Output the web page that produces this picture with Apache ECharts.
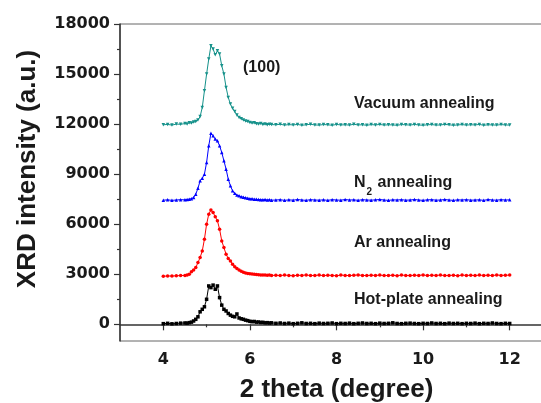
<!DOCTYPE html>
<html>
<head>
<meta charset="utf-8">
<script src="https://cdn.jsdelivr.net/npm/echarts@6/dist/echarts.min.js"></script>
<style>
  html, body { margin: 0; padding: 0; background: #fff; }
  #main { width: 541px; height: 403px; }
</style>
</head>
<body>
<div id="main"></div>
<script>
// 2 theta positions (denser around the (100) peak)
var twoTheta = [
    4.0, 4.1, 4.2, 4.3, 4.4,
    4.5, 4.55, 4.6, 4.65, 4.7, 4.75, 4.8, 4.85, 4.9, 4.95,
    5.0, 5.05, 5.1, 5.15, 5.2, 5.25, 5.3, 5.35, 5.4, 5.45,
    5.5, 5.55, 5.6, 5.65, 5.7, 5.75, 5.8, 5.85, 5.9, 5.95,
    6.0, 6.05, 6.1, 6.15, 6.2, 6.25, 6.3, 6.35, 6.4, 6.45, 6.5,
    6.6, 6.7, 6.8, 6.9, 7.0, 7.1, 7.2, 7.3, 7.4, 7.5, 7.6,
    7.7, 7.8, 7.9, 8.0, 8.1, 8.2, 8.3, 8.4, 8.5, 8.6, 8.7,
    8.8, 8.9, 9.0, 9.1, 9.2, 9.3, 9.4, 9.5, 9.6, 9.7, 9.8,
    9.9, 10.0, 10.1, 10.2, 10.3, 10.4, 10.5, 10.6, 10.7, 10.8, 10.9,
    11.0, 11.1, 11.2, 11.3, 11.4, 11.5, 11.6, 11.7, 11.8, 11.9, 12.0
];

var vacuum = [
    11960, 11980, 11940, 12000, 11990,
    12030, 12010, 12080, 12060, 12120, 12150, 12250, 12450, 13000, 14000,
    15000, 15900, 16700, 16500, 16150, 16400, 16200, 15500, 15000, 14200,
    13600, 13200, 12950, 12750, 12550, 12400, 12320, 12250, 12180, 12150,
    12100, 12060, 12080, 12020, 12010, 12040, 11980, 12000, 11960, 11990, 11970,
    11960, 11990, 11940, 11970, 11950, 11980, 11930, 11960, 11990, 11950, 11940,
    11970, 11960, 11930, 11980, 11950, 11960, 11940, 11990, 11950, 11960, 11930,
    11970, 11950, 11980, 11940, 11960, 11950, 11930, 11970, 11960, 11940, 11980,
    11950, 11930, 11960, 11970, 11940, 11950, 11980, 11960, 11930, 11950, 11970,
    11940, 11960, 11950, 11980, 11930, 11960, 11950, 11940, 11970, 11950, 11940
];

var nitrogen = [
    7440, 7460, 7430, 7450, 7470,
    7460, 7480, 7500, 7530, 7600, 7800, 8150, 8600, 8750, 9000,
    9700, 10700, 11450, 11300, 11100, 11000, 10700, 10300, 9800, 9300,
    8700, 8300, 8000, 7850, 7750, 7700, 7650, 7620, 7580, 7560,
    7530, 7520, 7500, 7490, 7480, 7470, 7460, 7480, 7450, 7470, 7440,
    7450, 7470, 7430, 7460, 7440, 7480, 7450, 7430, 7470, 7450, 7440,
    7460, 7430, 7470, 7450, 7440, 7480, 7450, 7460, 7430, 7470, 7450,
    7440, 7460, 7480, 7450, 7430, 7460, 7450, 7470, 7440, 7450, 7480,
    7450, 7430, 7460, 7470, 7440, 7450, 7480, 7450, 7430, 7460, 7450,
    7470, 7440, 7450, 7460, 7430, 7480, 7450, 7440, 7470, 7450, 7460
];

var argon = [
    2880, 2900, 2890, 2910, 2920,
    2930, 2950, 3000, 3150, 3250, 3400, 3700, 4000, 4400, 5100,
    6000, 6600, 6850, 6700, 6450, 6200, 5700, 5000, 4600, 4200,
    3950, 3800, 3600, 3450, 3350, 3250, 3180, 3120, 3080, 3050,
    3030, 3010, 3000, 2980, 2970, 2960, 2950, 2960, 2940, 2950, 2930,
    2940, 2920, 2950, 2930, 2910, 2940, 2930, 2960, 2920, 2930, 2950,
    2920, 2940, 2930, 2910, 2950, 2930, 2920, 2940, 2960, 2930, 2920,
    2940, 2930, 2950, 2920, 2930, 2940, 2910, 2950, 2930, 2920, 2940,
    2930, 2960, 2920, 2940, 2930, 2950, 2920, 2930, 2940, 2910, 2950,
    2930, 2940, 2920, 2950, 2930, 2940, 2920, 2960, 2930, 2940, 2950
];

var hotPlate = [
    40, 60, 30, 50, 70,
    80, 70, 100, 130, 200, 300, 450, 750, 900, 1050,
    1500, 2300, 2200, 2350, 2100, 2300, 1600, 1150, 900, 800,
    650, 550, 480, 450, 620, 380, 330, 300, 250, 220,
    180, 160, 170, 130, 140, 110, 120, 90, 100, 80, 90,
    60, 80, 50, 70, 40, 60, 90, 50, 60, 40, 70,
    50, 60, 80, 40, 60, 50, 70, 40, 60, 80, 50,
    60, 40, 70, 50, 60, 90, 50, 40, 60, 70, 50,
    40, 60, 50, 80, 50, 60, 40, 70, 50, 60, 40,
    60, 50, 70, 40, 60, 50, 80, 50, 40, 60, 50
];

var xTicks = [4, 6, 8, 10, 12];
var xMinorTicks = [5, 7, 9, 11];
var yTicks = [0, 3000, 6000, 9000, 12000, 15000, 18000];
var yMinorTicks = [1500, 4500, 7500, 10500, 13500, 16500];

function pairs(values) {
    return twoTheta.map(function (x, i) { return [x, values[i]]; });
}

var chart = echarts.init(document.getElementById('main'));

var tickFont = {
    color: '#1a1a1a',
    fontFamily: 'DejaVu Sans',
    fontWeight: 'bold',
    fontSize: 16
};
var noteFont = 'bold 16px "Liberation Sans", Arial, sans-serif';
// the frame runs past the right edge of the picture (x = 13 is cut off)
var gridPos = {left: 120, top: 24, width: 433, bottom: 62, containLabel: false, outerBoundsMode: 'none'};

function line(name, values, color, symbol, rotate) {
    return {
        name: name,
        type: 'line',
        data: pairs(values),
        symbol: symbol,
        symbolSize: 3.5,
        symbolRotate: rotate || 0,
        showSymbol: true,
        itemStyle: {color: color},
        lineStyle: {color: color, width: 1},
        animation: false
    };
}

chart.setOption({
    backgroundColor: '#fff',
    grid: [
        Object.assign({show: true, borderColor: '#666', borderWidth: 1}, gridPos),
        Object.assign({}, gridPos)
    ],
    xAxis: [
        {
            type: 'value', gridIndex: 0, min: 3, max: 13,
            axisLine: {lineStyle: {color: '#333', width: 1.5}},
            axisTick: {length: 6, customValues: xTicks, lineStyle: {color: '#333', width: 1.2}},
            axisLabel: Object.assign({customValues: xTicks, margin: 11}, tickFont),
            splitLine: {show: false},
            name: '2 theta (degree)',
            nameLocation: 'middle',
            nameGap: 36,
            nameTextStyle: {
                color: '#1a1a1a', fontWeight: 'bold', fontSize: 26,
                fontFamily: '"Liberation Sans", Arial, sans-serif'
            }
        },
        {
            type: 'value', gridIndex: 1, min: 3, max: 13,
            axisLine: {show: false},
            axisTick: {length: 3, customValues: xMinorTicks, lineStyle: {color: '#333', width: 1.2}},
            axisLabel: {show: false},
            splitLine: {show: false}
        }
    ],
    yAxis: [
        {
            type: 'value', gridIndex: 0, min: -1000, max: 18000,
            axisLine: {show: true, lineStyle: {color: '#333', width: 1.5}},
            axisTick: {show: true, length: 6, customValues: yTicks, lineStyle: {color: '#333', width: 1.2}},
            axisLabel: Object.assign({
                customValues: yTicks, margin: 10,
                formatter: function (v) { return String(v); }
            }, tickFont),
            splitLine: {show: false}
        },
        {
            type: 'value', gridIndex: 1, min: -1000, max: 18000,
            axisLine: {show: false},
            axisTick: {show: true, length: 3, customValues: yMinorTicks, lineStyle: {color: '#333', width: 1.2}},
            axisLabel: {show: false},
            splitLine: {show: false}
        }
    ],
    graphic: [
        {
            type: 'text', x: 28, y: 169, rotation: Math.PI / 2,
            style: {
                text: 'XRD intensity (a.u.)', align: 'center', verticalAlign: 'middle',
                font: 'bold 26px "Liberation Sans", Arial, sans-serif', fill: '#1a1a1a'
            }
        },
        {type: 'text', x: 243, y: 68, style: {text: '(100)', verticalAlign: 'middle', font: noteFont, fill: '#1a1a1a'}},
        {type: 'text', x: 354, y: 104, style: {text: 'Vacuum annealing', verticalAlign: 'middle', font: noteFont, fill: '#1a1a1a'}},
        {
            type: 'text', x: 354, y: 183,
            style: {
                text: '{n|N}{s|2}{n| annealing}', verticalAlign: 'middle', fill: '#1a1a1a',
                rich: {
                    n: {font: noteFont, lineHeight: 28, verticalAlign: 'middle'},
                    s: {fontSize: 10, fontWeight: 'bold', fontFamily: '"Liberation Sans", Arial', lineHeight: 10, verticalAlign: 'bottom', padding: [0, 1, 0, 1]}
                }
            }
        },
        {type: 'text', x: 354, y: 243, style: {text: 'Ar annealing', verticalAlign: 'middle', font: noteFont, fill: '#1a1a1a'}},
        {type: 'text', x: 354, y: 300, style: {text: 'Hot-plate annealing', verticalAlign: 'middle', font: noteFont, fill: '#1a1a1a'}}
    ],
    series: [
        line('Hot-plate annealing', hotPlate, '#000000', 'rect'),
        line('Ar annealing', argon, '#ff0000', 'circle'),
        line('N2 annealing', nitrogen, '#0000ff', 'triangle'),
        line('Vacuum annealing', vacuum, '#15918a', 'triangle', 180)
    ]
});
</script>
</body>
</html>
